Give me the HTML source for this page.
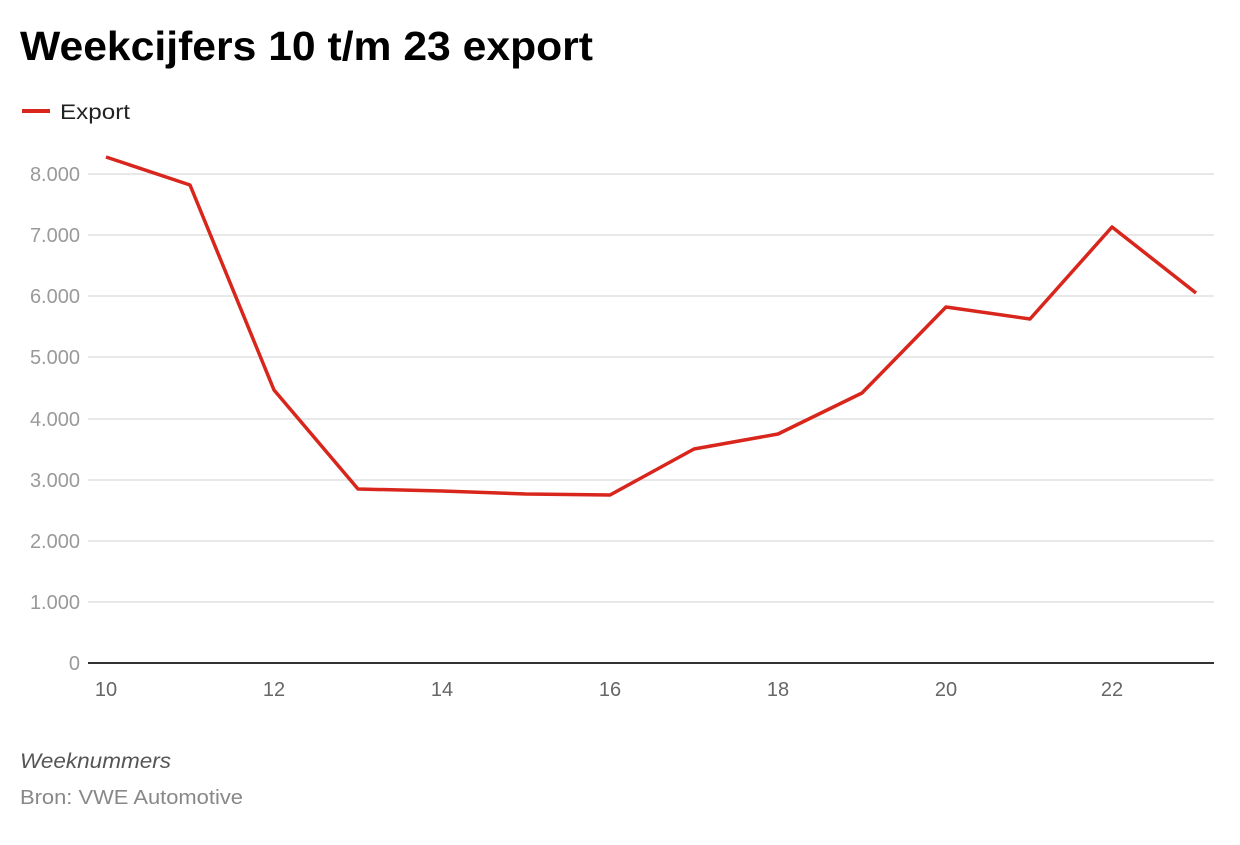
<!DOCTYPE html>
<html><head><meta charset="utf-8"><style>
body{margin:0;width:1240px;height:840px;background:#fff;font-family:"Liberation Sans",sans-serif;overflow:hidden}
</style></head><body>
<svg width="1240" height="840" xmlns="http://www.w3.org/2000/svg" font-family="Liberation Sans, sans-serif">
<text x="20" y="60" font-size="41" font-weight="bold" fill="#000" textLength="573" lengthAdjust="spacingAndGlyphs">Weekcijfers 10 t/m 23 export</text>
<line x1="22" y1="111" x2="50" y2="111" stroke="#d9261c" stroke-width="4"/>
<text x="60" y="119" font-size="21" fill="#222" textLength="70" lengthAdjust="spacingAndGlyphs">Export</text>
<g stroke="#e0e0e0" stroke-width="1.5">
<line x1="88" x2="1214" y1="174" y2="174"/><line x1="88" x2="1214" y1="235" y2="235"/>
<line x1="88" x2="1214" y1="296" y2="296"/><line x1="88" x2="1214" y1="357" y2="357"/>
<line x1="88" x2="1214" y1="419" y2="419"/><line x1="88" x2="1214" y1="480" y2="480"/>
<line x1="88" x2="1214" y1="541" y2="541"/><line x1="88" x2="1214" y1="602" y2="602"/>
</g>
<line x1="88" x2="1214" y1="663" y2="663" stroke="#333" stroke-width="2"/>
<g font-size="20" fill="#999" text-anchor="end">
<text x="80" y="181">8.000</text><text x="80" y="242">7.000</text><text x="80" y="303">6.000</text>
<text x="80" y="364">5.000</text><text x="80" y="426">4.000</text><text x="80" y="487">3.000</text>
<text x="80" y="548">2.000</text><text x="80" y="609">1.000</text><text x="80" y="670">0</text>
</g>
<g font-size="20" fill="#666" text-anchor="middle">
<text x="106" y="696">10</text><text x="274" y="696">12</text><text x="442" y="696">14</text>
<text x="610" y="696">16</text><text x="778" y="696">18</text><text x="946" y="696">20</text>
<text x="1112" y="696">22</text>
</g>
<polyline fill="none" stroke="#d9261c" stroke-width="3.5" stroke-linejoin="round" points="106,157 190,185 274,390 358,489 442,491 526,494 610,495 694,449 778,434 862,393 946,307 1030,319 1112,227 1196,293"/>
<text x="20" y="768" font-size="21" font-style="italic" fill="#555" textLength="151" lengthAdjust="spacingAndGlyphs">Weeknummers</text>
<text x="20" y="804" font-size="20" fill="#888" textLength="223" lengthAdjust="spacingAndGlyphs">Bron: VWE Automotive</text>
</svg>
</body></html>
